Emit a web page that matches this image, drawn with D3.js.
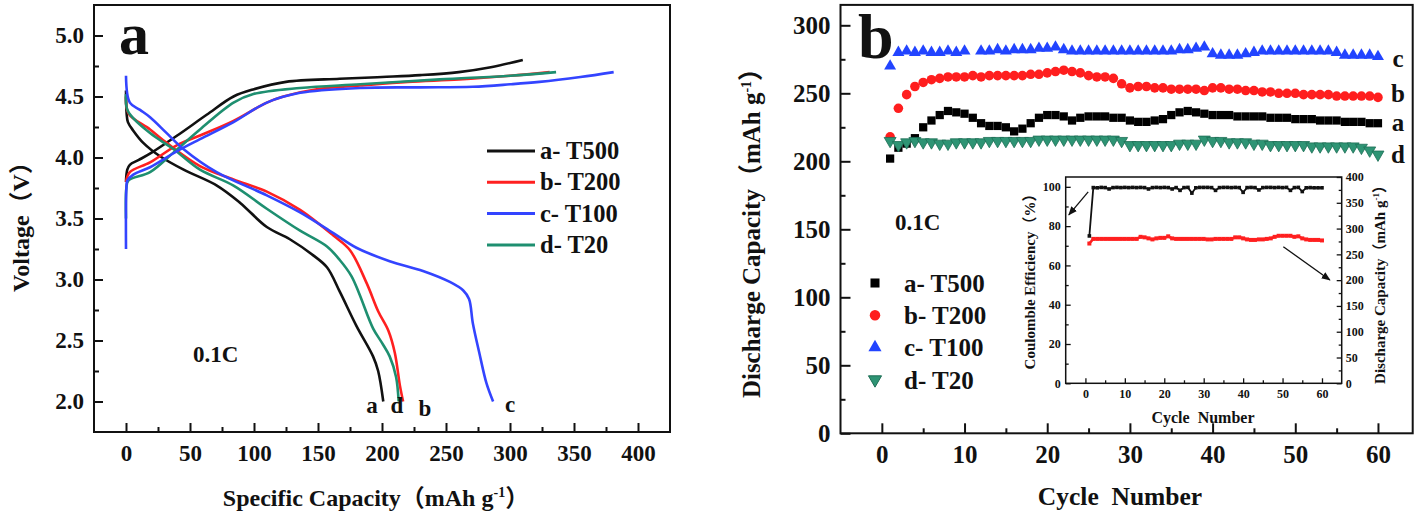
<!DOCTYPE html>
<html>
<head>
<meta charset="utf-8">
<script src="https://cdn.jsdelivr.net/npm/d3@7"></script>
<style>
  body { margin: 0; background: #fff; }
  svg text { font-family: "Liberation Serif", "Times New Roman", "Noto Sans CJK SC", serif; font-weight: bold; fill: #111; }
</style>
</head>
<body>
<svg id="chart"></svg>
<script>
// ---- panel a : charge / discharge curves  [capacity mAh/g, voltage V]
var chargeT500 = [[0,3.8],[1,3.9],[3,3.94],[10,3.98],[20,4.04],[40,4.18],[63,4.35],[84,4.5],[100,4.56],[125,4.62],[167,4.645],[200,4.66],[230,4.675],[260,4.7],[285,4.74],[310,4.8]];
var dischT500  = [[0,4.55],[0.5,4.36],[1.5,4.29],[5.7,4.22],[13.5,4.12],[26.6,4.01],[45,3.9],[71,3.77],[89,3.63],[110,3.43],[128,3.33],[146,3.2],[157,3.1],[167,2.9],[180,2.62],[193,2.37],[197,2.25],[201,2.0]];
var chargeT200 = [[0,3.8],[3,3.88],[18.8,3.96],[39.6,4.1],[57.8,4.18],[84,4.3],[110,4.45],[123,4.5],[149,4.56],[183,4.59],[220,4.62],[260,4.64],[300,4.67],[331,4.7]];
var dischT200  = [[0,4.5],[2,4.36],[18.8,4.23],[31.8,4.12],[57.8,3.93],[84,3.82],[110,3.72],[136,3.57],[162,3.36],[175,3.24],[188,2.97],[197,2.74],[205,2.58],[210,2.4],[214,2.13],[216.5,2.0]];
var chargeT100 = [[0,3.25],[0.3,3.75],[1,3.81],[5.7,3.86],[18.8,3.92],[39.6,4.05],[57.8,4.15],[84,4.29],[110,4.45],[136,4.53],[183,4.57],[230,4.575],[271,4.58],[300,4.6],[323,4.62],[355,4.66],[381,4.7]];
var dischT100  = [[0,4.67],[3,4.45],[11,4.39],[18.8,4.33],[31.8,4.2],[44.8,4.07],[70.8,3.88],[110,3.69],[136,3.55],[162,3.38],[180,3.26],[206,3.15],[232,3.07],[253,2.98],[263.5,2.91],[268,2.84],[271,2.64],[276,2.4],[281.6,2.15],[286.8,2.0]];
var chargeT20  = [[0,3.5],[0.3,3.75],[1.8,3.81],[18.8,3.88],[37,4.04],[57.8,4.23],[84,4.45],[99.5,4.52],[136,4.57],[183,4.6],[245,4.64],[300,4.67],[336,4.7]];
var dischT20   = [[0,4.52],[1.5,4.38],[18.8,4.2],[37,4.07],[57.8,3.9],[84,3.77],[110,3.58],[136,3.4],[157,3.27],[167,3.16],[176,3.03],[182,2.89],[193,2.6],[200,2.48],[206,2.37],[211,2.2],[213,2.0]];

var seriesNames = ["a- T500", "b- T200", "c- T100", "d- T20"];
var seriesColors = ["#111111", "#ff2020", "#3344ff", "#1e8f70"];

var voltTicks = [2.0, 2.5, 3.0, 3.5, 4.0, 4.5, 5.0];
var voltMinor = [2.25, 2.75, 3.25, 3.75, 4.25, 4.75];
var capTicks = [0, 50, 100, 150, 200, 250, 300, 350, 400];
var capMinor = [25, 75, 125, 175, 225, 275, 325, 375];

// ---- panel b : discharge capacity vs cycle
var cycles = d3.range(1, 61);
var capA = [202,210,213,217,225,230,234,237,236,235, 232,228,226,226,225,222,224,228,232,234, 234,233,230,232,233,233,233,232,232,230,
            229,229,230,231,234,236,237,236,235,234, 234,234,233,233,233,233,232,232,232,231, 231,231,230,230,230,229,229,229,228,228];
var capB = [218,239,249,255,258,260,261,262,262,262, 263,262,263,263,263,263,263,264,264,265, 266,267,266,265,263,262,262,261,257,254,
            255,255,254,254,253,253,253,253,252,254, 254,253,253,252,252,251,251,250,250,250, 249,249,249,249,248,248,248,248,248,247];
var capC = [270,280,281,280,281,280,280,281,280,281, null,281,281,282,281,282,282,282,283,283, 284,282,281,281,281,281,281,281,281,281,
            281,281,281,281,281,282,282,283,284,279, 278,278,278,279,280,281,281,281,281,281, 281,281,281,281,280,278,278,278,278,277];
var capD = [215,212,214,215,214,214,213,213,214,214, 214,214,215,215,215,215,215,215,216,216, 216,216,216,216,216,216,216,216,215,212,
            212,212,212,212,212,213,213,213,216,215, 215,214,214,214,213,213,212,212,212,212, 212,211,211,211,211,211,211,210,208,205];

var capBTicks = [0, 50, 100, 150, 200, 250, 300];
var capBMinor = [25, 75, 125, 175, 225, 275];
var cycleTicks = [0, 10, 20, 30, 40, 50, 60];
var cycleMinor = [5, 15, 25, 35, 45, 55];

// ---- inset : coulombic efficiency (%) and discharge capacity (mAh/g)
var effInset = [75,99.6,99.5,99.7,99.6,98.9,99.6,99.7,99.6,99.7, 99.6,99.7,99.6,99.7,99.6,98.9,99.6,99.7,99.6,99.7,
                99.6,98.9,99.6,98.2,99.6,99.7,96.8,99.5,99.7,99.7, 99.7,99.6,98.2,99.6,99.7,99.7,99.6,99.7,99.6,97.2,
                99.6,99.7,99.6,98.4,99.6,99.7,99.7,99.6,99.7,99.6, 99.7,98.2,99.6,99.7,97.6,99.5,99.6,99.5,99.5,99.5];
var capInset = [271,280,280,280,280,280,280,280,280,280, 280,280,280,284,283,281,279,281,282,282,
                285,281,280,280,280,280,280,280,280,280, 279,279,280,280,280,280,280,283,283,281,
                279,278,278,279,279,280,281,284,286,286, 286,286,284,285,281,279,278,278,278,277];
var effTicks = [0, 20, 40, 60, 80, 100];
var effMinor = [10, 30, 50, 70, 90];
var capITicks = [0, 50, 100, 150, 200, 250, 300, 350, 400];
var capIMinor = [25, 75, 125, 175, 225, 275, 325, 375];

var width = 1422, height = 515;
var svg = d3.select("#chart").attr("width", width).attr("height", height);

// tidy up an axis group : no domain line, dark ticks, bold labels
function styleAxis(g, size) {
    g.select(".domain").remove();
    g.selectAll(".tick line").attr("stroke", "#111").attr("stroke-width", 2);
    g.selectAll("text").attr("font-size", size).attr("fill", "#111");
}

// ================= PANEL A =================
var xA = d3.scaleLinear().domain([-25, 425]).range([94, 670]);
var yA = d3.scaleLinear().domain([1.75, 5.25]).range([432, 5]);

var gA = svg.append("g");

var gyA = gA.append("g").attr("transform", "translate(" + xA.range()[0] + ",0)")
    .call(d3.axisLeft(yA).tickValues(voltTicks).tickSize(-9).tickPadding(10).tickFormat(d3.format(".1f")));
styleAxis(gyA, 23);
gA.append("g").attr("transform", "translate(" + xA.range()[0] + ",0)")
    .call(d3.axisLeft(yA).tickValues(voltMinor).tickSize(-5).tickFormat(""))
    .call(styleAxis, 0);

var gxA = gA.append("g").attr("transform", "translate(0," + yA.range()[0] + ")")
    .call(d3.axisBottom(xA).tickValues(capTicks).tickSize(-9).tickPadding(13));
styleAxis(gxA, 23);
gA.append("g").attr("transform", "translate(0," + yA.range()[0] + ")")
    .call(d3.axisBottom(xA).tickValues(capMinor).tickSize(-5).tickFormat(""))
    .call(styleAxis, 0);

gA.append("rect")
    .attr("x", xA.range()[0]).attr("y", yA.range()[1])
    .attr("width", xA.range()[1] - xA.range()[0]).attr("height", yA.range()[0] - yA.range()[1])
    .attr("fill", "none").attr("stroke", "#111").attr("stroke-width", 2);

var lineA = d3.line()
    .x(function(d){ return xA(d[0]); })
    .y(function(d){ return yA(d[1]); })
    .curve(d3.curveCatmullRom.alpha(0.5));

var curvesA = [
    {c: 0, data: chargeT500}, {c: 0, data: dischT500},
    {c: 1, data: chargeT200}, {c: 1, data: dischT200},
    {c: 3, data: chargeT20},  {c: 3, data: dischT20},
    {c: 2, data: chargeT100}, {c: 2, data: dischT100}
];
gA.selectAll(".curve").data(curvesA).enter().append("path")
    .attr("class", "curve")
    .attr("d", function(d){ return lineA(d.data); })
    .attr("fill", "none")
    .attr("stroke", function(d){ return seriesColors[d.c]; })
    .attr("stroke-width", 2.6);

// legend a
var legA = gA.selectAll(".legA").data(seriesNames).enter().append("g")
    .attr("transform", function(d, i){ return "translate(487," + (151 + i * 31.3) + ")"; });
legA.append("line").attr("x1", 0).attr("x2", 48)
    .attr("stroke", function(d, i){ return seriesColors[i]; }).attr("stroke-width", 3);
legA.append("text").attr("x", 53).attr("y", 8).attr("font-size", 24.5).text(function(d){ return d; });

// curve end letters
var endLabelsA = [["a", 372, 413], ["d", 397, 413], ["b", 425, 416], ["c", 510, 412]];
gA.selectAll(".endA").data(endLabelsA).enter().append("text")
    .attr("x", function(d){ return d[1]; }).attr("y", function(d){ return d[2]; })
    .attr("text-anchor", "middle").attr("font-size", 23).text(function(d){ return d[0]; });

gA.append("text").attr("x", 193).attr("y", 362).attr("font-size", 23).text("0.1C");
gA.append("text").attr("x", 119).attr("y", 54).attr("font-size", 60).text("a");

gA.append("text").attr("transform", "translate(29,221) rotate(-90)")
    .attr("text-anchor", "middle").attr("font-size", 24).text("Voltage（V）");
var tA = gA.append("text").attr("x", 376).attr("y", 506).attr("text-anchor", "middle").attr("font-size", 24);
tA.append("tspan").text("Specific Capacity（mAh g");
tA.append("tspan").attr("dy", -9).attr("font-size", 14).text("-1");
tA.append("tspan").attr("dy", 9).text("）");

// ================= PANEL B =================
var xB = d3.scaleLinear().domain([-5, 64.2]).range([840.5, 1412.7]);
var yB = d3.scaleLinear().domain([0, 315]).range([433.3, 4.9]);

var gB = svg.append("g");

var gyB = gB.append("g").attr("transform", "translate(" + xB.range()[0] + ",0)")
    .call(d3.axisLeft(yB).tickValues(capBTicks).tickSize(-10).tickPadding(10));
styleAxis(gyB, 25);
gB.append("g").attr("transform", "translate(" + xB.range()[0] + ",0)")
    .call(d3.axisLeft(yB).tickValues(capBMinor).tickSize(-5).tickFormat(""))
    .call(styleAxis, 0);

var gxB = gB.append("g").attr("transform", "translate(0," + yB.range()[0] + ")")
    .call(d3.axisBottom(xB).tickValues(cycleTicks).tickSize(-10).tickPadding(12));
styleAxis(gxB, 25);
gB.append("g").attr("transform", "translate(0," + yB.range()[0] + ")")
    .call(d3.axisBottom(xB).tickValues(cycleMinor).tickSize(-5).tickFormat(""))
    .call(styleAxis, 0);

gB.append("rect")
    .attr("x", xB.range()[0]).attr("y", yB.range()[1])
    .attr("width", xB.range()[1] - xB.range()[0]).attr("height", yB.range()[0] - yB.range()[1])
    .attr("fill", "none").attr("stroke", "#111").attr("stroke-width", 2);

var symbols = [
    {type: d3.symbolSquare, size: 68, rot: 0},
    {type: d3.symbolCircle, size: 72, rot: 0},
    {type: d3.symbolTriangle, size: 62, rot: 0},
    {type: d3.symbolTriangle, size: 62, rot: 180}
];
var fillsB = ["#000000", "#ff1e1e", "#2244ff", "#2e9474"];
var strokesB = ["none", "none", "none", "#1d6e55"];

[capA, capB, capC, capD].forEach(function(vals, s) {
    var pts = vals.map(function(v, i){ return {c: cycles[i], v: v}; })
                  .filter(function(d){ return d.v !== null; });
    gB.append("g").selectAll("path").data(pts).enter().append("path")
        .attr("d", d3.symbol().type(symbols[s].type).size(symbols[s].size))
        .attr("transform", function(d){
            return "translate(" + xB(d.c) + "," + yB(d.v) + ") rotate(" + symbols[s].rot + ")";
        })
        .attr("fill", fillsB[s]).attr("stroke", strokesB[s]).attr("stroke-width", 0.8);
});

// legend b
var legB = gB.selectAll(".legB").data(seriesNames).enter().append("g")
    .attr("transform", function(d, i){ return "translate(875," + (283 + i * 32.2) + ")"; });
legB.append("path")
    .attr("d", function(d, i){ return d3.symbol().type(symbols[i].type).size(symbols[i].size * 1.2)(); })
    .attr("transform", function(d, i){ return "rotate(" + symbols[i].rot + ")"; })
    .attr("fill", function(d, i){ return fillsB[i]; })
    .attr("stroke", function(d, i){ return strokesB[i]; });
legB.append("text").attr("x", 29).attr("y", 9).attr("font-size", 25).text(function(d){ return d; });

var endLabelsB = [["c", 67], ["b", 102], ["a", 130.5], ["d", 163]];
gB.selectAll(".endB").data(endLabelsB).enter().append("text")
    .attr("x", 1398).attr("y", function(d){ return d[1]; })
    .attr("text-anchor", "middle").attr("font-size", 25).text(function(d){ return d[0]; });

gB.append("text").attr("x", 895).attr("y", 230).attr("font-size", 23).text("0.1C");
gB.append("text").attr("x", 858).attr("y", 58).attr("font-size", 64).text("b");

var tyB = gB.append("text").attr("transform", "translate(760,227) rotate(-90)")
    .attr("text-anchor", "middle").attr("font-size", 25);
tyB.append("tspan").text("Discharge Capacity（mAh g");
tyB.append("tspan").attr("dy", -9).attr("font-size", 14).text("-1");
tyB.append("tspan").attr("dy", 9).text("）");
gB.append("text").attr("x", 1120).attr("y", 505).attr("text-anchor", "middle")
    .attr("font-size", 25.5).style("white-space", "pre").text("Cycle  Number");

// ================= INSET =================
var xI = d3.scaleLinear().domain([-5, 65]).range([1065.7, 1341.7]);
var yIL = d3.scaleLinear().domain([0, 105]).range([383.3, 177]);
var yIR = d3.scaleLinear().domain([0, 400]).range([383.3, 177]);

var gI = svg.append("g");
gI.append("rect")
    .attr("x", xI.range()[0]).attr("y", yIL.range()[1])
    .attr("width", xI.range()[1] - xI.range()[0]).attr("height", yIL.range()[0] - yIL.range()[1])
    .attr("fill", "#fff").attr("stroke", "#111").attr("stroke-width", 1.5);

function styleInset(g) {
    g.select(".domain").remove();
    g.selectAll(".tick line").attr("stroke", "#111").attr("stroke-width", 1.3);
    g.selectAll("text").attr("font-size", 12).attr("fill", "#111");
}
gI.append("g").attr("transform", "translate(" + xI.range()[0] + ",0)")
    .call(d3.axisLeft(yIL).tickValues(effTicks).tickSize(-5).tickPadding(5)).call(styleInset);
gI.append("g").attr("transform", "translate(" + xI.range()[0] + ",0)")
    .call(d3.axisLeft(yIL).tickValues(effMinor).tickSize(-3).tickFormat("")).call(styleInset);
gI.append("g").attr("transform", "translate(" + xI.range()[1] + ",0)")
    .call(d3.axisRight(yIR).tickValues(capITicks).tickSize(-5).tickPadding(4)).call(styleInset);
gI.append("g").attr("transform", "translate(" + xI.range()[1] + ",0)")
    .call(d3.axisRight(yIR).tickValues(capIMinor).tickSize(-3).tickFormat("")).call(styleInset);
gI.append("g").attr("transform", "translate(0," + yIL.range()[0] + ")")
    .call(d3.axisBottom(xI).tickValues(cycleTicks).tickSize(-5).tickPadding(6)).call(styleInset);
gI.append("g").attr("transform", "translate(0," + yIL.range()[0] + ")")
    .call(d3.axisBottom(xI).tickValues(cycleMinor).tickSize(-3).tickFormat("")).call(styleInset);

var effLine = d3.line().x(function(d, i){ return xI(cycles[i]); }).y(function(d){ return yIL(d); });
var capLine = d3.line().x(function(d, i){ return xI(cycles[i]); }).y(function(d){ return yIR(d); });

gI.append("path").attr("d", capLine(capInset)).attr("fill", "none").attr("stroke", "#ff2020").attr("stroke-width", 2.6);
gI.append("g").selectAll("rect").data(capInset).enter().append("rect")
    .attr("x", function(d, i){ return xI(cycles[i]) - 2; }).attr("y", function(d){ return yIR(d) - 2; })
    .attr("width", 4).attr("height", 4).attr("fill", "#ff2020");
gI.append("path").attr("d", effLine(effInset)).attr("fill", "none").attr("stroke", "#111").attr("stroke-width", 1.8);
gI.append("g").selectAll("rect").data(effInset).enter().append("rect")
    .attr("x", function(d, i){ return xI(cycles[i]) - 1.8; }).attr("y", function(d){ return yIL(d) - 1.8; })
    .attr("width", 3.6).attr("height", 3.6).attr("fill", "#111");

// arrows pointing at each axis
svg.append("defs").append("marker")
    .attr("id", "head").attr("viewBox", "0 0 10 10").attr("refX", 9).attr("refY", 5)
    .attr("markerWidth", 7).attr("markerHeight", 7).attr("orient", "auto")
    .append("path").attr("d", "M0,1 L10,5 L0,9 Z").attr("fill", "#111");
var arrows = [[0.7, 97.4, -4.2, 85.7], [50.2, 69.5, 62, 52.6]];
gI.selectAll(".arrow").data(arrows).enter().append("line")
    .attr("x1", function(d){ return xI(d[0]); }).attr("y1", function(d){ return yIL(d[1]); })
    .attr("x2", function(d){ return xI(d[2]); }).attr("y2", function(d){ return yIL(d[3]); })
    .attr("stroke", "#111").attr("stroke-width", 1.3).attr("marker-end", "url(#head)");

gI.append("text").attr("transform", "translate(1035,278) rotate(-90)")
    .attr("text-anchor", "middle").attr("font-size", 15).text("Coulomble Efficiency（%）");
var tyI = gI.append("text").attr("transform", "translate(1385,281) rotate(-90)")
    .attr("text-anchor", "middle").attr("font-size", 15);
tyI.append("tspan").text("Discharge Capacity（mAh g");
tyI.append("tspan").attr("dy", -6).attr("font-size", 9).text("-1");
tyI.append("tspan").attr("dy", 6).text("）");
gI.append("text").attr("x", 1203).attr("y", 423).attr("text-anchor", "middle")
    .attr("font-size", 16).style("white-space", "pre").text("Cycle  Number");
</script>
</body>
</html>
